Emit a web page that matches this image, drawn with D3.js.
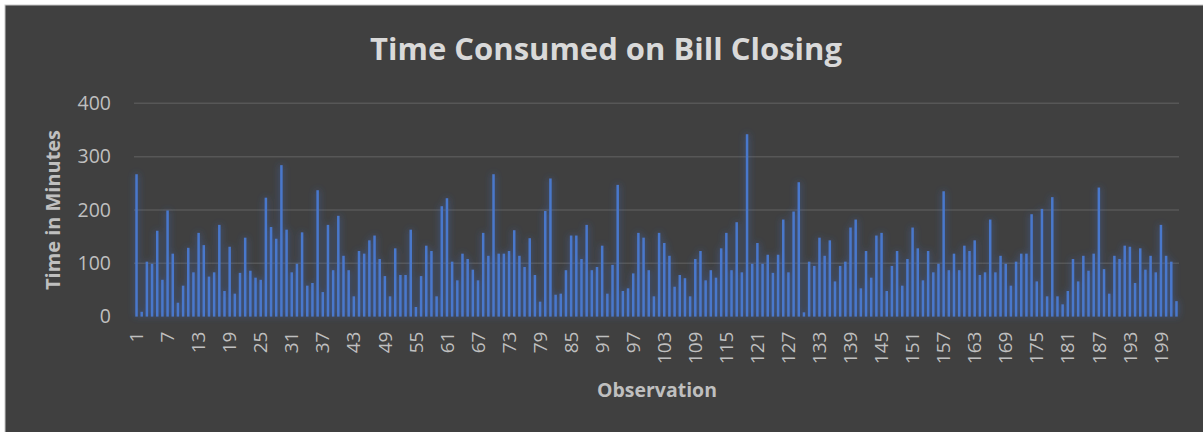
<!DOCTYPE html>
<html>
<head>
<meta charset="utf-8">
<script src="https://cdn.jsdelivr.net/npm/d3@7"></script>
<style>
  body { margin: 0; background: #fff; }
  text { font-family: "Open Sans", sans-serif; }
</style>
</head>
<body>
<div id="chart"></div>
<script>
// observation numbers 1..202
const observations = d3.range(1, 203);

// time in minutes per observation
const minutes = [
  267, 9, 103, 99, 161, 69, 199, 118, 26, 58, 129, 83, 157, 134, 75, 83, 172, 48, 131, 43, 82, 148, 86, 73, 69, 223, 168, 146, 284, 163, 83, 99,
  158, 58, 63, 237, 46, 172, 87, 189, 114, 87, 38, 123, 118, 143, 152, 108, 76, 38, 128, 78, 78, 163, 18, 76, 133, 123, 38, 207, 222, 103, 68, 118, 108,
  88, 68, 157, 114, 267, 118, 118, 123, 162, 114, 93, 147, 78, 28, 198, 259, 41, 43, 87, 152, 152, 108, 172, 87, 93, 133, 43, 97, 247, 48, 53, 81, 157,
  148, 87, 38, 157, 138, 114, 56, 78, 72, 38, 108, 123, 68, 87, 73, 128, 157, 87, 177, 83, 342, 99, 138, 99, 116, 82, 116, 182, 83, 197, 252, 8, 103,
  95, 148, 114, 143, 66, 95, 103, 167, 182, 53, 123, 73, 152, 157, 48, 95, 123, 58, 108, 167, 128, 68, 123, 83, 99, 235, 87, 118, 87, 133, 123, 143, 78,
  83, 182, 83, 114, 99, 58, 103, 118, 118, 192, 66, 202, 38, 224, 38, 23, 48, 108, 66, 114, 86, 118, 242, 89, 43, 114, 108, 133, 131, 63, 128, 88, 114, 83, 172, 114, 103, 29
];

const yTicks = [0, 100, 200, 300, 400];
const xTickLabels = observations.filter((d, i) => i % 6 === 0);

const data = observations.map((o, i) => ({ obs: o, value: minutes[i] }));

const width = 1203, height = 432;
const plot = { left: 134, right: 1179, top: 103.3, bottom: 316.6 };

const svg = d3.select("#chart").append("svg")
    .attr("width", width)
    .attr("height", height);

// glow filter for the bars
const defs = svg.append("defs");
const glow = defs.append("filter").attr("id", "glow")
    .attr("x", "-200%").attr("y", "-10%").attr("width", "500%").attr("height", "120%");
glow.append("feGaussianBlur").attr("in", "SourceAlpha").attr("stdDeviation", 3.5).attr("result", "blur");
glow.append("feFlood").attr("flood-color", "#3d68c0").attr("flood-opacity", 0.75);
glow.append("feComposite").attr("in2", "blur").attr("operator", "in").attr("result", "halo");
const merge = glow.append("feMerge");
merge.append("feMergeNode").attr("in", "halo");
merge.append("feMergeNode").attr("in", "SourceGraphic");

// chart background (border only shows on the left and top)
svg.append("rect")
    .attr("x", 5).attr("y", 5)
    .attr("width", width + 10).attr("height", height + 10)
    .attr("fill", "#404040")
    .attr("stroke", "#c8c8c8")
    .attr("stroke-width", 1);

const x = d3.scaleBand()
    .domain(observations)
    .range([plot.left, plot.right])
    .paddingInner(0.52)
    .paddingOuter(0.25);

const y = d3.scaleLinear()
    .domain([0, 400])
    .range([plot.bottom, plot.top]);

// gridlines
svg.append("g")
    .selectAll("line")
    .data(yTicks.filter(d => d > 0))
    .enter().append("line")
    .attr("x1", plot.left).attr("x2", plot.right)
    .attr("y1", d => y(d)).attr("y2", d => y(d))
    .attr("stroke", "#575757")
    .attr("stroke-width", 1.5);

// bars
svg.append("g")
    .attr("filter", "url(#glow)")
    .selectAll("rect")
    .data(data)
    .enter().append("rect")
    .attr("x", d => x(d.obs))
    .attr("y", d => y(d.value))
    .attr("width", x.bandwidth())
    .attr("height", d => y(0) - y(d.value))
    .attr("fill", "#4a78cc");

// y axis
const yAxis = svg.append("g")
    .attr("transform", `translate(${plot.left - 23},0)`)
    .call(d3.axisLeft(y).tickValues(yTicks).tickSize(0).tickPadding(0));
yAxis.select(".domain").remove();
yAxis.selectAll("text")
    .attr("fill", "#bfbfbf")
    .style("font-size", "19.5px");

// x axis
const xAxis = svg.append("g")
    .attr("transform", `translate(0,${plot.bottom})`)
    .call(d3.axisBottom(x).tickValues(xTickLabels).tickSize(0));
xAxis.select(".domain").remove();
xAxis.selectAll("text")
    .attr("fill", "#bfbfbf")
    .style("font-size", "19px")
    .attr("text-anchor", "end")
    .attr("transform", "rotate(-90)")
    .attr("x", -15)
    .attr("y", 0)
    .attr("dy", "0.35em");

// fit a text element to a target width
function fit(sel, target) {
    const w = sel.node().getComputedTextLength();
    const fs = parseFloat(sel.style("font-size"));
    sel.style("font-size", (fs * target / w) + "px");
}

// title
const title = svg.append("text")
    .attr("x", 606).attr("y", 60)
    .attr("text-anchor", "middle")
    .attr("fill", "#d9d9d9")
    .style("font-weight", "bold")
    .style("font-size", "30px")
    .text("Time Consumed on Bill Closing");
fit(title, 472);

// axis titles
const yTitle = svg.append("text")
    .attr("transform", "translate(60,210) rotate(-90)")
    .attr("text-anchor", "middle")
    .attr("fill", "#bfbfbf")
    .style("font-weight", "bold")
    .style("font-size", "17px")
    .text("Time in Minutes");
fit(yTitle, 160);

const xTitle = svg.append("text")
    .attr("x", 657).attr("y", 397)
    .attr("text-anchor", "middle")
    .attr("fill", "#bfbfbf")
    .style("font-weight", "bold")
    .style("font-size", "17px")
    .text("Observation");
fit(xTitle, 120);
</script>
</body>
</html>
